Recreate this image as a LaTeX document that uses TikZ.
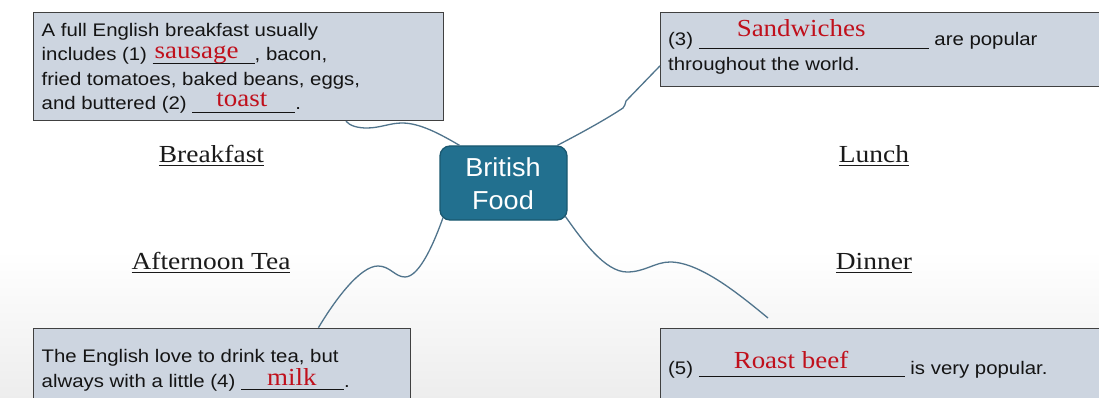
\documentclass[tikz,border=0pt]{standalone}
\usepackage{fontspec}
\usetikzlibrary{calc}
\newfontfamily\boxf{Liberation Sans}[FakeStretch=1.12]
\newfontfamily\ctrf{Liberation Sans}[FakeStretch=1.04]
\newfontfamily\redf{Liberation Serif}[FakeStretch=1.1]
\newfontfamily\labf{Liberation Serif}[FakeStretch=1.12]
\definecolor{boxfill}{RGB}{205,213,224}
\definecolor{boxline}{RGB}{64,64,64}
\definecolor{ctrfill}{RGB}{34,112,143}
\definecolor{ctrline}{RGB}{26,88,112}
\definecolor{conncol}{RGB}{80,116,140}
\definecolor{ansred}{RGB}{192,16,28}
\definecolor{labcol}{RGB}{26,26,26}
\newcommand\fillin[4]{\rlap{\rule[-3pt]{#1}{1.1pt}}\rlap{\hspace*{#4}\raisebox{#3}{\redf\fontsize{24.5}{24.5}\selectfont\color{ansred}#2}}\hspace*{#1}}
\newcommand\ulab[1]{\setbox0\hbox{#1}\rlap{\rule[-3.4pt]{\wd0}{1.1pt}}\box0}
\begin{document}
\begin{tikzpicture}[x=1pt,y=-1pt,
 box/.style={draw=boxline, line width=1.2pt, fill=boxfill, inner sep=0pt, anchor=north west},
 boxtxt/.style={inner sep=0pt, anchor=base west, font=\boxf\fontsize{18.2}{20}\selectfont, text=black!92},
 lab/.style={inner sep=0pt, anchor=base, font=\labf\fontsize{24.5}{26}\selectfont, text=labcol},
 ctr/.style={draw=ctrline, line width=1.3pt, fill=ctrfill, rounded corners=10pt, minimum width=127pt, minimum height=74pt, inner sep=0pt},
 ctrtxt/.style={inner sep=0pt, anchor=base, font=\ctrf\fontsize{26}{30}\selectfont, text=white},
 conn/.style={draw=conncol, line width=1.3pt}]
\clip (0,0) rectangle (1099,398);
\fill[white] (0,0) rectangle (1099,398);
\shade[top color=white, bottom color=black!7] (0,250) rectangle (1099,398);

% boxes
\node[box, minimum width=410pt, minimum height=108pt] (b1) at (33,12) {};
\node[box, minimum width=460pt, minimum height=74pt] (b2) at (660,12) {};
\node[box, minimum width=377pt, minimum height=100pt] (b3) at (32.5,327.7) {};
\node[box, minimum width=460pt, minimum height=100pt] (b4) at (660,327.7) {};
\node[ctr] (c) at (503.5,183) {};

% connector coordinates
\coordinate (bfA) at ($(b1.south west)!0.761!(b1.south east)$);
\coordinate (bfB) at ($(c.north west)!0.157!(c.north east)$);
\coordinate (bf1) at (367,128);
\coordinate (bf2) at (402,123);
\coordinate (luA) at ($(c.north west)!0.92!(c.north east)$);
\coordinate (luB) at ($(b2.north west)!0.716!(b2.south west)$);
\coordinate (lu1) at (623,108);
\coordinate (lu2) at (626,101);
\coordinate (teA) at ($(c.south west)+(3.5,-2.5)$);
\coordinate (teB) at ($(b3.north west)!0.756!(b3.north east)$);
\coordinate (te1) at (405,277);
\coordinate (te2) at (378,266);
\coordinate (diA) at ($(c.south east)+(-2.5,-4.5)$);
\coordinate (diEnd) at (768,318);
\coordinate (di1) at (627,272);
\coordinate (di2) at (670,262);

\draw[conn] (bfA) .. controls (350,126) and (358,128) .. (bf1)
  .. controls (380,128) and (390,123) .. (bf2)
  .. controls (420,123) and (440,134) .. (bfB);
\draw[conn] (luA) .. controls (585,131) and (608,118) .. (lu1)
  .. controls (626,106) and (624,104) .. (lu2) -- (luB);
\draw[conn] (teA) .. controls (435,240) and (420,277) .. (te1)
  .. controls (395,277) and (390,266) .. (te2)
  .. controls (360,266) and (335,300) .. (teB);
\draw[conn] (diA) .. controls (582,240) and (605,272) .. (di1)
  .. controls (645,272) and (655,262) .. (di2)
  .. controls (700,262) and (740,295) .. (diEnd);

% centre text
\node[ctrtxt] (ct1) at (503,176) {British};
\node[ctrtxt] (ct2) at (503,209.3) {Food};

% box texts
\node[boxtxt] (t11) at (41.5,36.7) {A full English breakfast usually};
\node[boxtxt] (t12) at (41.5,61) {includes (1) \fillin{102pt}{sausage}{2pt}{2pt}, bacon,};
\node[boxtxt] (t13) at (41.5,85.4) {fried tomatoes, baked beans, eggs,};
\node[boxtxt] (t14) at (41.5,110) {and buttered (2) \fillin{103pt}{toast}{3pt}{24pt}.};
\node[boxtxt] (t21) at (668,46) {(3) \fillin{230pt}{Sandwiches}{9pt}{38pt} are popular};
\node[boxtxt] (t22) at (668,71) {throughout the world.};
\node[boxtxt] (t31) at (41.5,362.7) {The English love to drink tea, but};
\node[boxtxt] (t32) at (41.5,387) {always with a little (4) \fillin{103pt}{milk}{1.5pt}{26pt}.};
\node[boxtxt] (t41) at (668,374) {(5) \fillin{206pt}{Roast beef}{6pt}{35pt} is very popular.};

% labels
\node[lab] (lb) at (211.5,162.7) {\ulab{Breakfast}};
\node[lab] (ll) at (874,162.7) {\ulab{Lunch}};
\node[lab] (la) at (211,269.5) {\ulab{Afternoon Tea}};
\node[lab] (ld) at (874,269.5) {\ulab{Dinner}};
\end{tikzpicture}
\end{document}
